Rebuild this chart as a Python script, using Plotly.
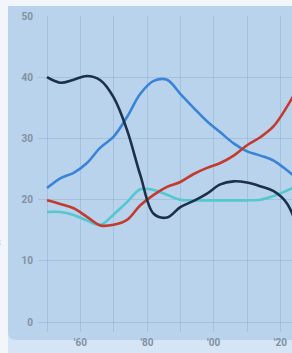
import plotly.graph_objects as go

years = [1950, 1954, 1958, 1962, 1966, 1970, 1974, 1978, 1982, 1986,
         1990, 1994, 1998, 2002, 2006, 2010, 2014, 2018, 2022, 2026]
dark_vals = [40, 39.1, 39.6, 40.2, 39.5, 36.7, 31.4, 24, 17.7, 17.1,
             18.8, 19.8, 21, 22.5, 23, 22.8, 22.2, 21.4, 19.4, 14]
blue_vals = [21.9, 23.5, 24.4, 26, 28.5, 30.3, 33.5, 37.3, 39.4, 39.6,
             37.3, 35, 32.8, 31, 29.2, 27.9, 27.2, 26.4, 24.8, 23]
red_vals = [19.9, 19.3, 18.6, 17.2, 15.8, 15.9, 16.7, 19.1, 20.8, 22.1,
            22.9, 24.2, 25.2, 26.0, 27.2, 28.9, 30.2, 32, 35.2, 39]
teal_vals = [18, 18, 17.5, 16.6, 15.9, 17.6, 19.6, 21.7, 21.6, 20.8,
             20.0, 19.9, 19.9, 19.9, 19.9, 19.9, 20, 20.6, 21.5, 22.5]

x_tick_vals = [1950, 1960, 1970, 1980, 1990, 2000, 2010, 2020]
x_tick_text = ["", "'60", "", "'80", "", "'00", "", "'20"]
y_tick_vals = [0, 10, 20, 30, 40, 50]

W, H = 292, 353
L, R, T, B = 38, 0, 16, 21
pw, ph = W - L - R, H - T - B


def X(px):
    return (px - L) / pw


def Y(py):
    return (H - B - py) / ph


fig = go.Figure()
series = [
    (teal_vals, "#55c7d0"),
    (blue_vals, "#3a84d8"),
    (red_vals, "#c23b2c"),
    (dark_vals, "#1d3049"),
]
for vals, col in series:
    fig.add_trace(go.Scatter(x=years, y=vals, mode="lines",
                             line=dict(color=col, width=2.6, shape="spline", smoothing=1.0),
                             showlegend=False, hoverinfo="skip"))

panel_path = (f"M {X(8)},{Y(6)} L {X(310)},{Y(6)} L {X(310)},{Y(340)} "
              f"L {X(16)},{Y(340)} Q {X(8)},{Y(340)} {X(8)},{Y(332)} Z")
tick_font = dict(family="Roboto", size=10, color="#8191a2", weight="bold")
fig.update_layout(
    width=W, height=H,
    margin=dict(l=L, r=R, t=T, b=B, pad=0),
    paper_bgcolor="#f2f5f9",
    plot_bgcolor="rgba(0,0,0,0)",
    shapes=[
        dict(type="rect", xref="paper", yref="paper", x0=X(8), x1=X(310), y0=Y(330), y1=Y(360),
             fillcolor="#d5e5f5", line=dict(width=0), layer="below"),
        dict(type="path", xref="paper", yref="paper", path=panel_path,
             fillcolor="#b9d3ec", line=dict(width=0), layer="below"),
    ],
    annotations=[
        dict(text="s", xref="paper", yref="paper", x=X(3), y=Y(241), xanchor="right",
             yanchor="middle", showarrow=False, font=dict(size=13, color="#2b62d6", family="Roboto")),
    ],
    xaxis=dict(range=[1947.3, 2023.5], tickvals=x_tick_vals, ticktext=x_tick_text,
               showgrid=True, gridcolor="rgba(110,135,185,0.25)", gridwidth=1,
               zeroline=False, showline=False, ticks="", ticklabelstandoff=3,
               tickfont=tick_font),
    yaxis=dict(range=[-1.6, 50], tickvals=y_tick_vals,
               showgrid=True, gridcolor="rgba(110,135,185,0.25)", gridwidth=1,
               zeroline=False, showline=False, ticks="", ticklabelstandoff=4,
               tickfont=tick_font),
)

fig.write_html(
    "out.html",
    config={"displayModeBar": False},
    post_script="document.body.style.margin='0';document.body.style.overflow='hidden';"
                "document.body.style.background='#f2f5f9';",
)
